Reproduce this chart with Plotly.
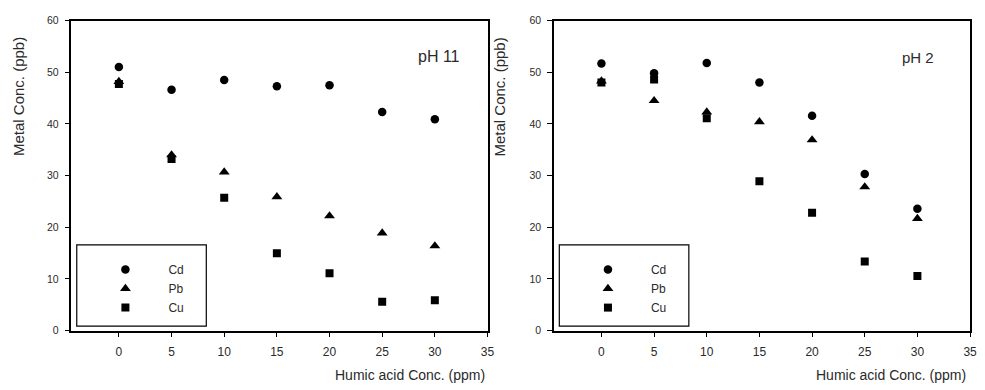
import plotly.graph_objects as go

humic = [0, 5, 10, 15, 20, 25, 30]

# pH 11 panel
cd_ph11 = [51.0, 46.6, 48.5, 47.3, 47.5, 42.3, 40.9]
pb_ph11 = [48.2, 34.0, 30.7, 25.9, 22.2, 18.9, 16.4]
cu_ph11 = [47.7, 33.2, 25.7, 15.0, 11.1, 5.6, 5.9]

# pH 2 panel
cd_ph2 = [51.7, 49.8, 51.8, 48.0, 41.6, 30.3, 23.6]
pb_ph2 = [48.3, 44.5, 42.3, 40.4, 36.9, 27.8, 21.7]
cu_ph2 = [48.0, 48.6, 41.1, 28.9, 22.8, 13.4, 10.6]

metals = ["Cd", "Pb", "Cu"]
symbols = {"Cd": "circle", "Pb": "triangle-up", "Cu": "square"}
sizes = {"Cd": 8.5, "Pb": 9.5, "Cu": 8}

x_ticks = [0, 5, 10, 15, 20, 25, 30, 35]
y_ticks = [0, 10, 20, 30, 40, 50, 60]

W, H = 985, 390
TXT = "#2a2a2a"
FONT = "Liberation Sans, Arial, sans-serif"

fig = go.Figure()

panels = [
    ("x", "y", "legend", [cd_ph11, pb_ph11, cu_ph11]),
    ("x2", "y2", "legend2", [cd_ph2, pb_ph2, cu_ph2]),
]
for xa, ya, lg, series in panels:
    for name, vals in zip(metals, series):
        fig.add_trace(go.Scatter(
            x=humic, y=vals, mode="markers", name=name,
            xaxis=xa, yaxis=ya, legend=lg,
            marker=dict(symbol=symbols[name], size=sizes[name], color="black",
                        line=dict(width=0)),
        ))

def px_x(p):
    return p / W

def px_y(p):
    return (H - p) / H

axis_common = dict(
    showline=True, linecolor="black", linewidth=1.5, mirror=True,
    ticks="outside", ticklen=5, tickwidth=1, tickcolor="black",
    showgrid=False, zeroline=False,
    tickfont=dict(family=FONT, size=12, color=TXT),
)

fig.update_layout(
    width=W, height=H,
    margin=dict(l=0, r=0, t=0, b=0),
    paper_bgcolor="white", plot_bgcolor="white",
    showlegend=True,
    xaxis=dict(domain=[px_x(72), px_x(491)], range=[-4.5, 35], tickvals=x_ticks,
               anchor="y", ticklabelstandoff=4, **axis_common),
    yaxis=dict(domain=[px_y(335), px_y(15)], range=[0, 60], tickvals=y_ticks,
               anchor="x", ticklabelstandoff=4,
               **{**axis_common, "tickfont": dict(family=FONT, size=10.5, color=TXT)}),
    xaxis2=dict(domain=[px_x(558), px_x(977)], range=[-4.5, 35], tickvals=x_ticks,
                anchor="y2", ticklabelstandoff=4, **axis_common),
    yaxis2=dict(domain=[px_y(335), px_y(15)], range=[0, 60], tickvals=y_ticks,
                anchor="x2", ticklabelstandoff=4,
                **{**axis_common, "tickfont": dict(family=FONT, size=10.5, color=TXT)}),
    legend=dict(x=px_x(83), y=px_y(257), xanchor="left", yanchor="top",
                bgcolor="rgba(0,0,0,0)", borderwidth=0, itemwidth=76,
                font=dict(family=FONT, size=12, color=TXT), tracegroupgap=0),
    legend2=dict(x=px_x(569), y=px_y(257), xanchor="left", yanchor="top",
                 bgcolor="rgba(0,0,0,0)", borderwidth=0, itemwidth=76,
                 font=dict(family=FONT, size=12, color=TXT), tracegroupgap=0),
)

# legend frames
for xa, ya in [("x", "y"), ("x2", "y2")]:
    fig.add_shape(type="rect", xref=xa, yref=ya, x0=-4.0, x1=8.3, y0=0.9, y1=16.6,
                  line=dict(color="black", width=1.2), fillcolor="rgba(0,0,0,0)",
                  layer="below")

anns = [
    dict(text="Metal Conc. (ppb)", x=px_x(18), y=px_y(93), textangle=-90, size=15),
    dict(text="Metal Conc. (ppb)", x=px_x(503), y=px_y(94), textangle=-90, size=15),
    dict(text="pH 11", x=px_x(442), y=px_y(52), textangle=0, size=16),
    dict(text="pH 2", x=px_x(925), y=px_y(53), textangle=0, size=15),
]
for a in anns:
    fig.add_annotation(text=a["text"], x=a["x"], y=a["y"], xref="paper", yref="paper",
                       xanchor="center", yanchor="middle", textangle=a["textangle"],
                       showarrow=False, font=dict(family=FONT, size=a["size"], color=TXT))

for xr in [490, 975]:
    fig.add_annotation(text="Humic acid Conc. (ppm)", x=px_x(xr), y=px_y(381),
                       xref="paper", yref="paper", xanchor="right", yanchor="middle",
                       showarrow=False, font=dict(family=FONT, size=14, color=TXT))

fig.write_html("out.html")
